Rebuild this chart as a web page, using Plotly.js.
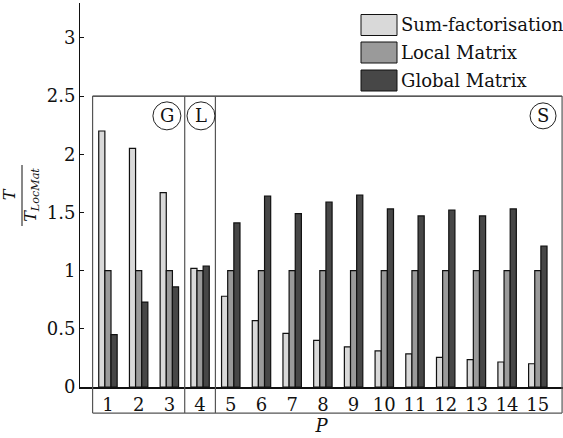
<!DOCTYPE html>
<html>
<head>
<meta charset="utf-8">
<script src="https://cdn.plot.ly/plotly-3.0.1.min.js"></script>
<style>
  html, body { margin: 0; padding: 0; background: #fff; }
  #chart { width: 563px; height: 438px; }
</style>
</head>
<body>
<div id="chart"></div>
<script>
// Process counts on the horizontal axis
const procs = [1, 2, 3, 4, 5, 6, 7, 8, 9, 10, 11, 12, 13, 14, 15];

// Run time relative to the local-matrix approach
const sumFactorisation = [2.20, 2.05, 1.67, 1.02, 0.78, 0.57, 0.46, 0.40, 0.345, 0.31, 0.285, 0.255, 0.235, 0.215, 0.20];
const localMatrix      = [1, 1, 1, 1, 1, 1, 1, 1, 1, 1, 1, 1, 1, 1, 1];
const globalMatrix     = [0.45, 0.73, 0.86, 1.04, 1.41, 1.64, 1.49, 1.59, 1.65, 1.53, 1.47, 1.52, 1.47, 1.53, 1.21];

const seriesNames = ['Sum-factorisation', 'Local Matrix', 'Global Matrix'];
const seriesColors = ['#d9d9d9', '#9a9a9a', '#474747'];

// Regime groups: label, first and last process count
const regimes = [
  { label: 'G', from: 1, to: 3 },
  { label: 'L', from: 4, to: 4 },
  { label: 'S', from: 5, to: 15 }
];

const FONT = "'DejaVu Serif', serif";
const series = [sumFactorisation, localMatrix, globalMatrix];

const traces = series.map((vals, i) => ({
  type: 'bar',
  x: procs,
  y: vals,
  name: seriesNames[i],
  marker: { color: seriesColors[i], line: { color: '#111', width: 1.2 } },
  showlegend: false,
  hoverinfo: 'x+y+name'
}));

const xRange = [0.09, 15.82];
const yRange = [0, 3.3];
const yBoxTop = 2.5;
const boxBottomPaper = -0.068;   // just under the tick-label row
const boxColor = '#555';

const shapes = [];
const annotations = [];

// Frame around the regime panels
const boxLeft = regimes[0].from - 0.5;
const boxRight = xRange[1] - 0.03;
shapes.push({ type: 'line', xref: 'x', yref: 'y', x0: boxLeft, x1: boxRight, y0: yBoxTop, y1: yBoxTop,
  line: { color: '#222', width: 1.2 } });
shapes.push({ type: 'line', xref: 'x', yref: 'paper', x0: boxLeft, x1: boxRight, y0: boxBottomPaper, y1: boxBottomPaper,
  line: { color: boxColor, width: 1.2 } });
const dividers = [boxLeft].concat(regimes.map(r => r.to + 0.5).slice(0, -1)).concat([boxRight]);
dividers.forEach(xv => {
  shapes.push({ type: 'line', xref: 'x', yref: 'paper', x0: xv, x1: xv,
    y0: boxBottomPaper, y1: yBoxTop / yRange[1], line: { color: boxColor, width: 1.2 } });
});

// Circled regime letters, placed at the top-right of each panel
const badgeY = 2.33;
const badgeX = { G: 2.92, L: 4.03, S: 15.17 };
const badgeR = { G: 14, L: 14, S: 13 };
regimes.forEach(r => {
  const bx = badgeX[r.label];
  const rad = badgeR[r.label];
  shapes.push({ type: 'circle', xref: 'x', yref: 'y', xsizemode: 'pixel', ysizemode: 'pixel',
    xanchor: bx, yanchor: badgeY, x0: -rad, x1: rad, y0: -rad, y1: rad,
    line: { color: '#222', width: 1 } });
  annotations.push({ xref: 'x', yref: 'y', x: bx, y: badgeY, text: r.label, showarrow: false,
    font: { family: FONT, size: 18, color: '#111' }, xanchor: 'center', yanchor: 'middle' });
});

// Legend drawn as swatches with labels
const plotW = 483, plotH = 384;
const px = v => (v - 80) / plotW;
const py = v => (387 - v) / plotH;
const legendRows = [25, 52.5, 80.5];
seriesNames.forEach((name, i) => {
  const yc = legendRows[i];
  shapes.push({ type: 'rect', xref: 'paper', yref: 'paper',
    x0: px(361), x1: px(397), y0: py(yc - 10.5), y1: py(yc + 10.5),
    fillcolor: seriesColors[i], line: { color: '#111', width: 1 } });
  annotations.push({ xref: 'paper', yref: 'paper', x: px(399), y: py(yc), text: name, showarrow: false,
    xanchor: 'left', yanchor: 'middle', font: { family: FONT, size: 18, color: '#111' } });
});

// Fraction bar of the vertical axis title
shapes.push({ type: 'line', xref: 'paper', yref: 'paper', x0: px(22), x1: px(22), y0: py(165), y1: py(226),
  line: { color: '#111', width: 1 } });

const layout = {
  width: 563,
  height: 438,
  margin: { l: 80, r: 0, t: 3, b: 51 },
  paper_bgcolor: '#fff',
  plot_bgcolor: '#fff',
  barmode: 'group',
  bargap: 0.4,
  bargroupgap: 0,
  showlegend: false,
  font: { family: FONT, size: 18, color: '#111' },
  xaxis: {
    range: xRange,
    tickvals: procs,
    ticktext: procs.map(String),
    ticks: '',
    showgrid: false,
    zeroline: false,
    showline: true,
    linecolor: '#111',
    linewidth: 2,
    tickfont: { family: FONT, size: 18, color: '#111' },
    title: { text: '<i>P</i>', font: { family: FONT, size: 18, color: '#111' }, standoff: 4 }
  },
  yaxis: {
    range: yRange,
    tickvals: [0, 0.5, 1, 1.5, 2, 2.5, 3],
    ticktext: ['0', '0.5', '1', '1.5', '2', '2.5', '3'],
    ticks: 'inside',
    ticklen: 4,
    tickcolor: '#111',
    showgrid: false,
    zeroline: false,
    showline: true,
    linecolor: '#111',
    linewidth: 1,
    tickfont: { family: FONT, size: 18, color: '#111' },
    // T over T_LocMat, stacked so that the rotation puts the numerator on the left
    title: { text: '<i>T</i><br><i>T</i><sub><i>LocMat</i></sub>',
      font: { family: FONT, size: 16, color: '#111' }, standoff: 8 }
  },
  shapes: shapes,
  annotations: annotations
};

Plotly.newPlot('chart', traces, layout, { displayModeBar: false, staticPlot: true });
</script>
</body>
</html>
